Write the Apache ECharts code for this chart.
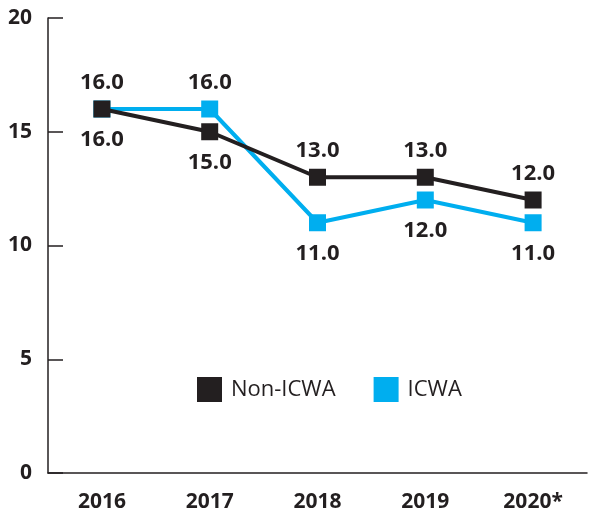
<!DOCTYPE html>
<html>
<head>
<meta charset="utf-8">
<script src="https://cdn.jsdelivr.net/npm/echarts@6/dist/echarts.min.js"></script>
<style>
  html, body { margin: 0; padding: 0; background: #fff; }
  #chart { width: 591px; height: 518px; }
</style>
</head>
<body>
<div id="chart"></div>
<script>
const years = ['2016', '2017', '2018', '2019', '2020*']
const nonIcwa = [16, 15, 13, 13, 12]
const icwa = [16, 16, 11, 12, 11]
const yTicks = [0, 5, 10, 15, 20]

const BLACK = '#231f20'
const BLUE = '#00aeef'
const FONT = '"Open Sans", "Noto Sans", sans-serif'

// label above when this series is the higher one (ties: ICWA above)
const withLabels = (vals, other, tieTop) =>
  vals.map((v, i) => {
    const top = v > other[i] || (v === other[i] && tieTop)
    return {
      value: v,
      label: { position: top ? 'top' : 'bottom', distance: top ? 7 : 11 },
    }
  })

const chart = echarts.init(document.getElementById('chart'))

const labelStyle = {
  show: true,
  color: BLACK,
  fontFamily: FONT,
  fontSize: 22,
  fontWeight: 'bold',
  formatter: (p) => p.value.toFixed(1),
}

chart.setOption({
  animation: false,
  grid: { left: 48, right: 4, top: 18, bottom: 45 },
  legend: {
    top: 372,
    left: 192,
    itemWidth: 25,
    itemHeight: 25,
    itemGap: 38,
    icon: 'rect',
    textStyle: { color: BLACK, fontFamily: FONT, fontSize: 22, padding: [0, 0, 0, 4] },
    data: ['Non-ICWA', 'ICWA'],
  },
  xAxis: {
    type: 'category',
    data: years,
    boundaryGap: true,
    axisLine: { lineStyle: { color: BLACK, width: 1.5 } },
    axisTick: { inside: true, length: 11, lineStyle: { color: BLACK, width: 1.5 } },
    axisLabel: {
      color: BLACK,
      fontFamily: FONT,
      fontSize: 21,
      fontWeight: 'bold',
      margin: 19,
    },
  },
  yAxis: {
    type: 'value',
    min: yTicks[0],
    max: yTicks[yTicks.length - 1],
    interval: yTicks[1] - yTicks[0],
    splitLine: { show: false },
    axisLine: { show: true, lineStyle: { color: BLACK, width: 1.5 } },
    axisTick: { show: true, inside: true, length: 15, lineStyle: { color: BLACK, width: 1.5 } },
    axisLabel: {
      color: BLACK,
      fontFamily: FONT,
      fontSize: 21,
      fontWeight: 'bold',
      margin: 16,
    },
  },
  series: [
    {
      name: 'Non-ICWA',
      type: 'line',
      symbol: 'rect',
      symbolSize: 17,
      z: 3,
      itemStyle: { color: BLACK },
      lineStyle: { color: BLACK, width: 4 },
      label: labelStyle,
      data: withLabels(nonIcwa, icwa, false),
    },
    {
      name: 'ICWA',
      type: 'line',
      symbol: 'rect',
      symbolSize: 17,
      z: 2,
      itemStyle: { color: BLUE },
      lineStyle: { color: BLUE, width: 4 },
      label: labelStyle,
      data: withLabels(icwa, nonIcwa, true),
    },
  ],
})
</script>
</body>
</html>
